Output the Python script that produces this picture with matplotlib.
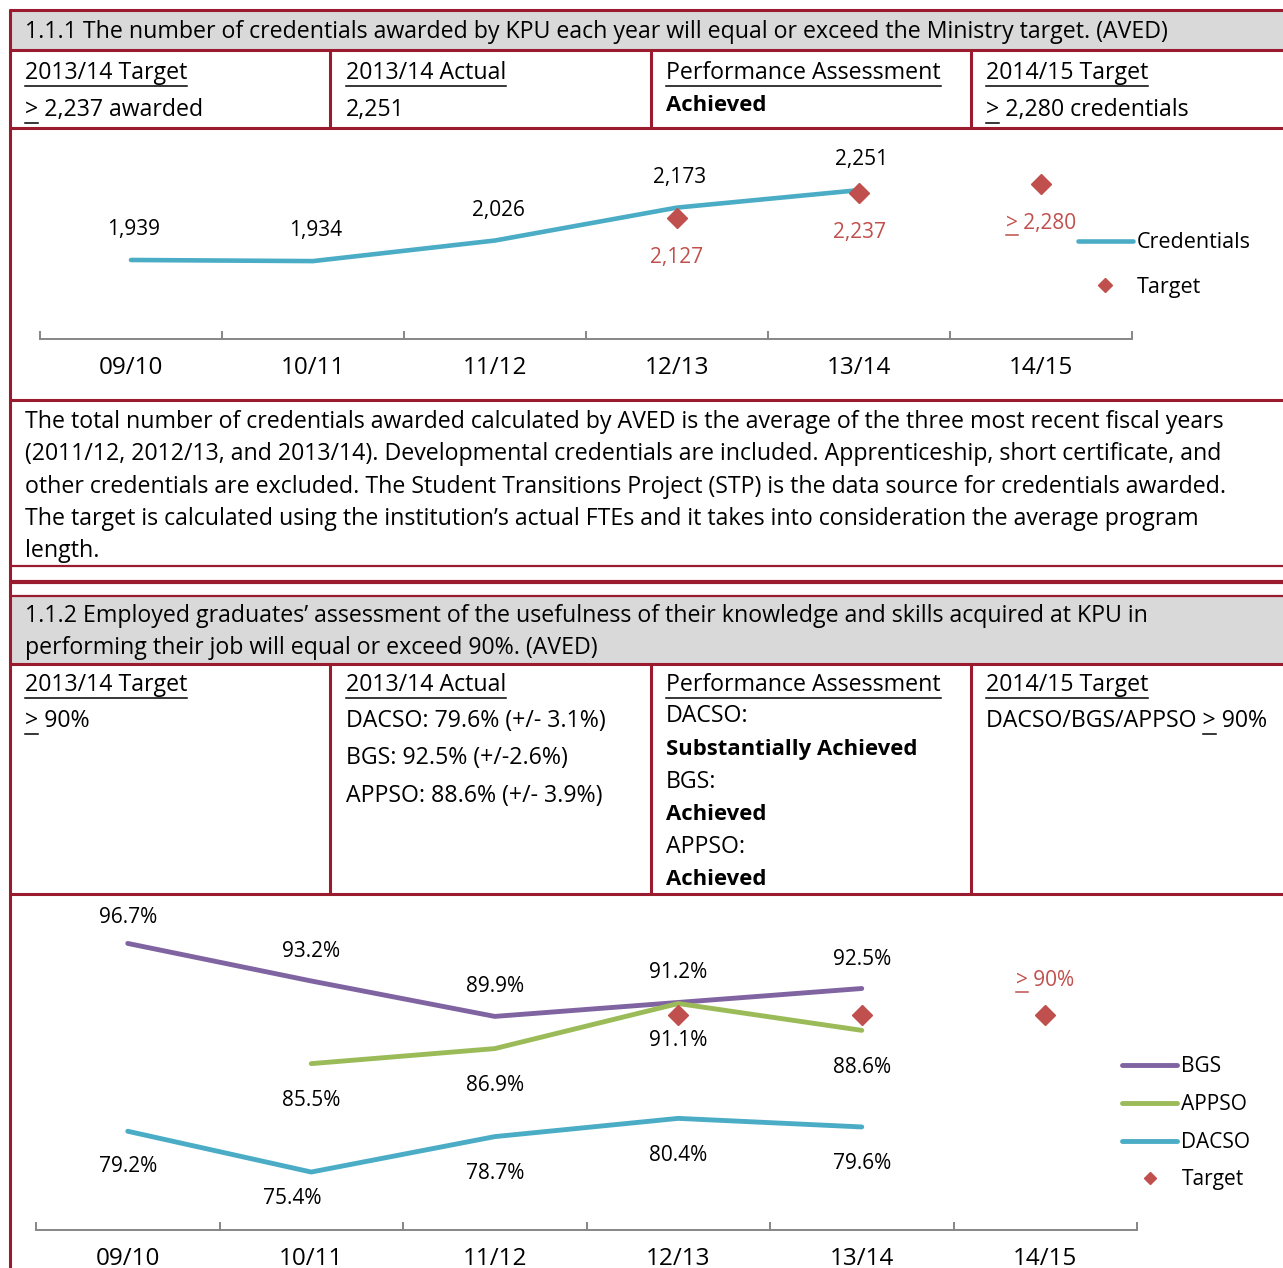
import numpy as np
import matplotlib
matplotlib.use("Agg")
import matplotlib.pyplot as plt
import matplotlib.transforms as mtransforms
from matplotlib.font_manager import FontProperties
from matplotlib.lines import Line2D
from matplotlib.patches import Rectangle

W, H = 1283, 1268
FONT = "Open Sans"
plt.rcParams["font.family"] = [FONT, "DejaVu Sans"]

# ---------------------------------------------------------------- data
years = ["09/10", "10/11", "11/12", "12/13", "13/14", "14/15"]

credentials = [1939, 1934, 2026, 2173, 2251]
credential_targets = [np.nan, np.nan, np.nan, 2127, 2237, 2280]

bgs = [96.7, 93.2, 89.9, 91.2, 92.5]
appso = [np.nan, 85.5, 86.9, 91.1, 88.6]
dacso = [79.2, 75.4, 78.7, 80.4, 79.6]
survey_targets = [np.nan, np.nan, np.nan, 90, 90, 90]

# label offsets (pixels, x right / y up, to the text baseline)
cred_label_dy = [25, 25, 25, 25, 25]
cred_target_label_dy = [0, 0, 0, -45, -45, -45]
bgs_label_dy = [20, 24, 24, 24, 24]
appso_label_dy = [0, -42, -42, -42, -43]
dacso_label_dx = [0, -19, 0, 0, 0]
dacso_label_dy = [-41, -32, -42, -43, -42]
survey_target_label_dy = 29

# ---------------------------------------------------------------- style
BORDER = "#9A1A2E"
HEADER_BG = "#D9D9D9"
TEAL = "#4BACC6"
PURPLE = "#8064A2"
GREEN = "#9BBB59"
RED = "#C0504D"
AXIS_GREY = "#868686"
BODY = 16.7
BOLD = 15.9
LABEL = 15
TICK = 17.5

fig = plt.figure(figsize=(W / 100, H / 100), dpi=100)
PIX = mtransforms.Affine2D().scale(1, -1).translate(0, H)
DISP = mtransforms.IdentityTransform()
renderer = fig.canvas.get_renderer()


def text_width(s, size, weight="normal"):
    fp = FontProperties(family=[FONT], size=size, weight=weight)
    w, _, _ = renderer.get_text_width_height_descent(s, fp, ismath=False)
    return w


def put(x, base, s, size=BODY, weight="normal", color="black", underline=None):
    fig.text(x, base, s, transform=PIX, fontsize=size, fontweight=weight,
             color=color, ha="left", va="baseline")
    if underline:
        part = s if underline is True else underline
        w = text_width(part, size, weight)
        fig.add_artist(Line2D([x, x + w], [base + 7, base + 7], transform=PIX,
                              color=color, lw=1.1))


def hline(y, lw=2.2):
    fig.add_artist(Line2D([9, W], [y, y], transform=PIX, color=BORDER, lw=lw,
                          solid_capstyle="butt", zorder=5))


def vline(x, y0, y1, lw=2.2):
    fig.add_artist(Line2D([x, x], [y0, y1], transform=PIX, color=BORDER, lw=lw,
                          solid_capstyle="butt", zorder=5))


def band(y0, y1):
    fig.add_artist(Rectangle((10, y0), W - 10, y1 - y0, transform=PIX,
                             facecolor=HEADER_BG, edgecolor="none", zorder=0))


# ---------------------------------------------------------------- table frame
band(10, 50)
band(597, 664)
for y in (10, 50, 128, 400, 664, 894):
    hline(y)
hline(566, 1.6)
hline(582, 3.0)
hline(596, 1.6)
vline(10, 9, H)
for x in (330, 651, 971):
    vline(x, 50, 128)
    vline(x, 664, 894)

# ---------------------------------------------------------------- section 1 text
put(25, 38, "1.1.1 The number of credentials awarded by KPU each year will equal "
            "or exceed the Ministry target. (AVED)")
put(25, 79, "2013/14 Target", underline=True)
put(25, 116, "> 2,237 awarded", underline=">")
put(346, 79, "2013/14 Actual", underline=True)
put(346, 116, "2,251")
put(666, 79, "Performance Assessment", underline=True)
put(666, 111, "Achieved", size=BOLD, weight="bold")
put(986, 79, "2014/15 Target", underline=True)
put(986, 116, "> 2,280 credentials", underline=">")

paragraph = [
    "The total number of credentials awarded calculated by AVED is the average of the three most recent fiscal years",
    "(2011/12, 2012/13, and 2013/14). Developmental credentials are included. Apprenticeship, short certificate, and",
    "other credentials are excluded. The Student Transitions Project (STP) is the data source for credentials awarded.",
    "The target is calculated using the institution\u2019s actual FTEs and it takes into consideration the average program",
    "length.",
]
for k, line in enumerate(paragraph):
    put(25, 428 + k * 32.3, line)

# ---------------------------------------------------------------- section 2 text
put(25, 622, "1.1.2 Employed graduates\u2019 assessment of the usefulness of their "
             "knowledge and skills acquired at KPU in")
put(25, 654, "performing their job will equal or exceed 90%. (AVED)")
put(25, 691, "2013/14 Target", underline=True)
put(25, 727, "> 90%", underline=">")
put(346, 691, "2013/14 Actual", underline=True)
put(346, 727, "DACSO: 79.6% (+/- 3.1%)")
put(346, 764, "BGS: 92.5% (+/-2.6%)")
put(346, 802, "APPSO: 88.6% (+/- 3.9%)")
put(666, 691, "Performance Assessment", underline=True)
put(666, 722, "DACSO:")
put(666, 755, "Substantially Achieved", size=BOLD, weight="bold")
put(666, 788, "BGS:")
put(666, 820, "Achieved", size=BOLD, weight="bold")
put(666, 853, "APPSO:")
put(666, 885, "Achieved", size=BOLD, weight="bold")
put(986, 691, "2014/15 Target", underline=True)
put(986, 727, "DACSO/BGS/APPSO > 90%")
fig.add_artist(Line2D([986 + text_width("DACSO/BGS/APPSO ", BODY),
                       986 + text_width("DACSO/BGS/APPSO >", BODY)],
                      [734, 734], transform=PIX, color="black", lw=1.1))


# ---------------------------------------------------------------- charts
def make_axes(left, right, top, bottom):
    ax = fig.add_axes([left / W, 1 - bottom / H, (right - left) / W, (bottom - top) / H])
    ax.patch.set_visible(False)
    for s in ("left", "right", "top"):
        ax.spines[s].set_visible(False)
    ax.spines["bottom"].set_color(AXIS_GREY)
    ax.spines["bottom"].set_linewidth(1.4)
    ax.set_xlim(-0.5, len(years) - 0.5)
    ax.set_xticks(range(len(years)))
    ax.set_xticklabels(years, fontsize=TICK)
    ax.set_xticks(np.arange(-0.5, len(years), 1.0), minor=True)
    ax.tick_params(axis="x", which="major", length=0, pad=12)
    ax.tick_params(axis="x", which="minor", direction="in", length=5.8,
                   width=1.4, color=AXIS_GREY)
    ax.set_yticks([])
    return ax


x = np.arange(len(years))
underlined = []

# chart 1: credentials
ax1 = make_axes(40, 1132, 140, 339)
ax1.set_ylim(1586, 2475)
ax1.plot(x[:len(credentials)], credentials, color=TEAL, lw=3.3,
         solid_capstyle="round", zorder=2)
ax1.plot(x, credential_targets, ls="none", marker="D", ms=9.7, color=RED, zorder=3)
for i, v in enumerate(credentials):
    ax1.annotate(f"{v:,}", (i, v), xytext=(3, cred_label_dy[i]),
                 textcoords="offset pixels", ha="center", va="baseline", fontsize=LABEL)
for i, v in enumerate(credential_targets):
    if np.isnan(v):
        continue
    label = f"{v:,.0f}"
    if i == len(years) - 1:
        label = "> " + label
    t = ax1.annotate(label, (i, v), xytext=(0, cred_target_label_dy[i]),
                     textcoords="offset pixels", ha="center", va="baseline",
                     fontsize=LABEL, color=RED)
    if label.startswith(">"):
        underlined.append((ax1, t, i, v, cred_target_label_dy[i], LABEL))

h1 = [Line2D([], [], color=TEAL, lw=3.3, solid_capstyle="round"),
      Line2D([], [], ls="none", marker="D", ms=7.5, color=RED)]
ax1.legend(h1, ["Credentials", "Target"], loc="center left",
           bbox_to_anchor=(1078 / W, 1 - 265 / H), bbox_transform=fig.transFigure,
           frameon=False, borderpad=0, borderaxespad=0, handlelength=2.55,
           handletextpad=0.2, labelspacing=1.1, fontsize=15.5)

# chart 2: survey results
ax2 = make_axes(36, 1137, 908, 1230)
ax2.set_ylim(70, 100)
ax2.plot(x[:len(bgs)], bgs, color=PURPLE, lw=3.5, solid_capstyle="round", zorder=2)
ax2.plot(x[:len(appso)], appso, color=GREEN, lw=3.5, solid_capstyle="round", zorder=2)
ax2.plot(x[:len(dacso)], dacso, color=TEAL, lw=3.5, solid_capstyle="round", zorder=2)
ax2.plot(x, survey_targets, ls="none", marker="D", ms=9.7, color=RED, zorder=3)
for i, v in enumerate(bgs):
    ax2.annotate(f"{v:.1f}%", (i, v), xytext=(0, bgs_label_dy[i]),
                 textcoords="offset pixels", ha="center", va="baseline", fontsize=LABEL)
for i, v in enumerate(appso):
    if np.isnan(v):
        continue
    ax2.annotate(f"{v:.1f}%", (i, v), xytext=(0, appso_label_dy[i]),
                 textcoords="offset pixels", ha="center", va="baseline", fontsize=LABEL)
for i, v in enumerate(dacso):
    ax2.annotate(f"{v:.1f}%", (i, v), xytext=(dacso_label_dx[i], dacso_label_dy[i]),
                 textcoords="offset pixels", ha="center", va="baseline", fontsize=LABEL)
last = len(years) - 1
t = ax2.annotate(f"> {survey_targets[last]:.0f}%", (last, survey_targets[last]),
                 xytext=(0, survey_target_label_dy), textcoords="offset pixels",
                 ha="center", va="baseline", fontsize=LABEL, color=RED)
underlined.append((ax2, t, last, survey_targets[last], survey_target_label_dy, LABEL))

h2 = [Line2D([], [], color=PURPLE, lw=3.5, solid_capstyle="round"),
      Line2D([], [], color=GREEN, lw=3.5, solid_capstyle="round"),
      Line2D([], [], color=TEAL, lw=3.5, solid_capstyle="round"),
      Line2D([], [], ls="none", marker="D", ms=6.5, color=RED)]
ax2.legend(h2, ["BGS", "APPSO", "DACSO", "Target"], loc="center left",
           bbox_to_anchor=(1122 / W, 1 - 1123.5 / H), bbox_transform=fig.transFigure,
           frameon=False, borderpad=0, borderaxespad=0, handlelength=2.65,
           handletextpad=0.2, labelspacing=0.8, fontsize=15)

# underline the ">" of minimum-target labels
fig.canvas.draw()
for ax, t, i, v, dy, size in underlined:
    bb = t.get_window_extent(renderer)
    base = ax.transData.transform((i, v))[1] + dy
    w = text_width(">", size)
    fig.add_artist(Line2D([bb.x0, bb.x0 + w], [base - 6, base - 6], transform=DISP,
                          color=RED, lw=1.1))

fig.savefig("out.png", dpi=100)
